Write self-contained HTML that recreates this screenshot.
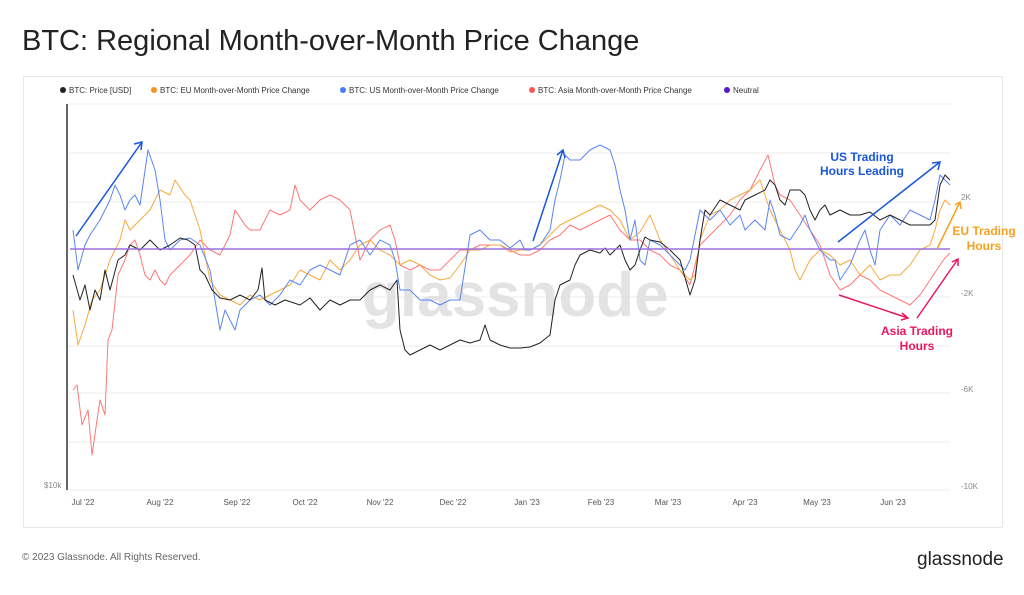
<!DOCTYPE html>
<html><head><meta charset="utf-8"><style>
body{margin:0;width:1024px;height:590px;background:#fff;font-family:"Liberation Sans",sans-serif;overflow:hidden}
</style></head><body>
<svg width="1024" height="590" xmlns="http://www.w3.org/2000/svg" font-family="Liberation Sans, sans-serif">
<text x="22" y="50" font-size="29" fill="#222">BTC: Regional Month-over-Month Price Change</text>
<rect x="23.5" y="76.5" width="979" height="451" fill="#fff" stroke="#e8e8e8"/>
<g font-size="8" fill="#333">
<circle cx="63" cy="90" r="3" fill="#222"/><text x="69" y="93">BTC: Price [USD]</text>
<circle cx="154" cy="90" r="3" fill="#f7931a"/><text x="160" y="93">BTC: EU Month-over-Month Price Change</text>
<circle cx="343" cy="90" r="3" fill="#4a7cf7"/><text x="349" y="93">BTC: US Month-over-Month Price Change</text>
<circle cx="532" cy="90" r="3" fill="#f55"/><text x="538" y="93">BTC: Asia Month-over-Month Price Change</text>
<circle cx="727" cy="90" r="3" fill="#5a16c9"/><text x="733" y="93">Neutral</text>
</g>
<g stroke="#eee" stroke-width="1">
<line x1="67" y1="104" x2="950" y2="104"/><line x1="67" y1="153" x2="950" y2="153"/><line x1="67" y1="202" x2="950" y2="202"/>
<line x1="67" y1="297" x2="950" y2="297"/><line x1="67" y1="346" x2="950" y2="346"/><line x1="67" y1="393" x2="950" y2="393"/><line x1="67" y1="442" x2="950" y2="442"/><line x1="67" y1="490" x2="950" y2="490"/>
</g>
<line x1="67" y1="104" x2="67" y2="490" stroke="#333" stroke-width="1.5"/>
<text x="362" y="316" font-size="62" font-weight="bold" fill="#ddd" opacity="0.8">glassnode</text>
<g font-size="8" fill="#888">
<text x="961" y="200">2K</text><text x="961" y="296">-2K</text><text x="961" y="392">-6K</text><text x="961" y="489">-10K</text>
<text x="44" y="488">$10k</text>
</g>
<g font-size="8" fill="#555" text-anchor="middle">
<text x="83" y="505">Jul '22</text><text x="160" y="505">Aug '22</text><text x="237" y="505">Sep '22</text><text x="305" y="505">Oct '22</text><text x="380" y="505">Nov '22</text><text x="453" y="505">Dec '22</text><text x="527" y="505">Jan '23</text><text x="601" y="505">Feb '23</text><text x="668" y="505">Mar '23</text><text x="745" y="505">Apr '23</text><text x="817" y="505">May '23</text><text x="893" y="505">Jun '23</text>
</g>
<g fill="none" stroke-width="1" stroke-linejoin="round">
<polyline stroke="#f77" points="73,390 77,385 82,425 88,410 92,455 97,420 100,400 105,415 108,340 112,330 118,275 125,260 130,245 135,240 140,255 145,275 150,280 155,270 160,280 165,285 170,275 180,265 190,255 200,240 210,250 220,255 230,235 235,210 245,225 250,230 260,230 270,210 280,215 290,210 295,185 300,200 310,210 320,200 330,195 340,200 350,210 360,260 370,240 380,230 390,225 395,240 400,265 410,270 420,265 430,270 440,270 450,260 460,250 470,250 480,245 490,245 500,245 510,250 520,255 530,255 540,250 550,240 560,235 570,225 580,230 590,225 600,220 610,215 620,230 630,240 640,240 650,250 660,255 670,265 680,270 690,285 700,245 710,235 720,225 730,215 740,200 750,190 760,170 768,155 775,185 780,195 790,200 800,215 810,230 820,245 830,275 840,290 850,285 860,275 870,280 880,290 890,295 900,300 910,305 920,295 930,280 940,265 945,258 950,253"/>
<polyline stroke="#f7a940" points="73,310 78,345 85,325 92,300 100,290 110,260 120,240 125,220 130,230 140,220 150,210 155,200 160,190 170,195 175,180 185,195 190,200 200,230 210,280 220,295 230,300 240,305 250,295 260,300 270,295 280,290 290,285 300,270 310,275 320,280 330,260 340,270 350,260 360,245 370,240 380,250 390,255 400,265 410,260 420,265 430,275 440,280 450,278 460,265 470,250 480,250 490,245 500,245 510,252 520,250 530,250 540,245 550,235 560,225 570,220 580,215 590,210 600,205 610,210 620,220 630,240 640,232 650,215 660,240 670,255 680,270 690,280 695,275 700,240 710,215 720,210 730,200 740,195 750,190 760,180 770,210 780,230 790,250 795,270 800,280 810,260 820,250 830,255 840,265 850,260 860,275 870,265 880,280 890,275 900,275 910,265 920,250 930,245 935,230 940,210 945,200 950,205"/>
<polyline stroke="#5b86f0" points="73,230 78,270 85,245 90,235 100,220 110,200 115,185 120,195 125,210 130,200 135,195 140,205 148,150 155,170 160,200 165,240 170,250 180,240 190,238 200,245 210,270 220,330 225,310 230,320 235,330 240,310 250,300 260,295 270,305 280,295 290,280 300,285 310,270 320,265 330,270 340,275 350,245 360,240 370,255 380,240 390,245 395,260 400,290 410,290 420,300 430,300 440,305 450,300 460,300 470,235 480,230 490,240 500,240 510,248 520,240 525,250 530,250 540,245 550,230 555,200 560,180 565,155 570,160 580,160 590,150 600,145 610,150 615,165 620,190 625,210 630,240 635,220 640,260 645,265 650,240 660,245 670,255 680,265 685,270 690,260 695,235 700,210 710,220 720,210 730,225 740,215 745,230 755,220 765,230 770,200 775,215 780,235 790,240 800,225 805,215 810,230 820,250 830,260 835,260 840,280 850,265 860,240 865,230 870,250 875,265 880,230 890,215 900,225 910,210 920,215 930,220 935,200 940,175 945,180 950,185"/>
<polyline stroke="#222" points="73,275 80,300 85,285 90,310 95,290 100,300 105,270 110,290 118,260 125,255 130,245 140,250 150,240 160,250 170,245 180,238 188,240 195,245 200,270 205,275 212,290 220,298 230,300 240,295 250,300 258,290 262,268 265,300 275,305 285,300 300,305 310,298 320,310 330,300 340,305 350,300 360,300 370,290 380,285 390,290 397,280 400,330 405,350 410,355 420,350 430,345 440,350 450,345 460,340 470,343 480,340 485,325 490,340 500,345 510,348 520,348 530,347 540,343 550,335 555,300 560,285 570,280 575,265 580,255 590,250 600,253 605,248 610,255 620,245 625,260 630,270 635,265 640,250 645,237 650,240 660,242 670,250 680,260 690,295 695,280 700,240 705,210 710,215 720,200 730,205 740,210 745,200 755,195 765,190 770,180 775,185 780,200 785,205 790,190 800,190 805,195 810,210 815,220 820,210 825,205 830,215 840,210 850,215 860,215 870,212 880,220 890,215 900,220 910,225 920,225 930,225 935,220 940,185 945,175 950,180"/>
</g>
<line x1="70" y1="249" x2="950" y2="249" stroke="#9b6fe0" stroke-width="1.5"/>
<g stroke-width="1.5" fill="none">
<path d="M76,236 L142,142 M134,144 L142,142 L141,150" stroke="#1a56db"/>
<path d="M533,241 L563,150 M557,155 L563,150 L565,158" stroke="#1a56db"/>
<path d="M838,242 L940,162 M932,163 L940,162 L938,170" stroke="#1a56db"/>
<path d="M937,249 L960,202 M955,205 L960,202 L961,209" stroke="#f7a020"/>
<path d="M839,295 L908,318 M902,313 L908,318 L901,320" stroke="#e8175d"/>
<path d="M917,318 L958,259 M952,262 L958,259 L958,266" stroke="#e8175d"/>
</g>
<g font-size="12" font-weight="bold" text-anchor="middle">
<text x="862" y="161" fill="#1a56db">US Trading</text><text x="862" y="175" fill="#1a56db">Hours Leading</text>
<text x="984" y="235" fill="#f7a020">EU Trading</text><text x="984" y="250" fill="#f7a020">Hours</text>
<text x="917" y="335" fill="#e8175d">Asia Trading</text><text x="917" y="350" fill="#e8175d">Hours</text>
</g>
<text x="22" y="560" font-size="10" fill="#666">© 2023 Glassnode. All Rights Reserved.</text>
<text x="917" y="565" font-size="19" fill="#222">glassnode</text>
</svg>
</body></html>
